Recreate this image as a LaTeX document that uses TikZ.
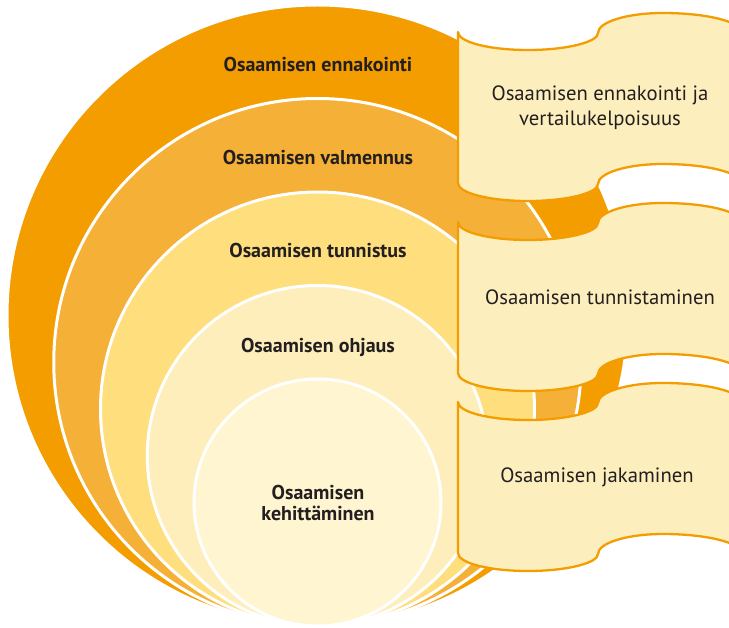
\documentclass[tikz,border=0pt]{standalone}
\usepackage{fontspec}
\setmainfont{PT Sans}
\definecolor{ringA}{RGB}{243,157,0}
\definecolor{ringB}{RGB}{245,176,55}
\definecolor{ringC}{RGB}{255,222,125}
\definecolor{ringD}{RGB}{254,238,188}
\definecolor{ringE}{RGB}{255,245,208}
\definecolor{bannerfill}{RGB}{253,239,189}
\definecolor{bannerline}{RGB}{243,157,0}
\definecolor{ink}{RGB}{35,31,32}
\tikzset{
  ring/.style={draw=white, line width=3pt},
  ringlabel/.style={text=ink, font=\fontsize{20}{21}\selectfont\bfseries, align=center, inner sep=0pt},
  bannershape/.style={draw=bannerline, fill=bannerfill, line width=2.3pt, line join=round},
  bannerlabel/.style={text=ink, font=\fontsize{20.7}{25}\selectfont, align=center, inner sep=0pt}
}
\newcommand{\wavebanner}[1]{%
  \begin{scope}[shift={(0,#1)}]
    \draw[bannershape] (458,0) .. controls (458,10) and (489,18) .. (528,18)
      .. controls (567,18) and (598,10) .. (598,1)
      .. controls (598,-10) and (627,-19) .. (663,-19)
      .. controls (706,-19) and (741,-10.5) .. (741,0)
      -- (741,151)
      .. controls (741,140.5) and (706,132) .. (663,132)
      .. controls (627,132) and (598,141) .. (598,152)
      .. controls (598,161) and (567,169) .. (528,169)
      .. controls (489,169) and (458,161) .. (458,151)
      -- cycle;
  \end{scope}}
\begin{document}
\begin{tikzpicture}[x=1pt,y=-1pt]
  \useasboundingbox (0,0) rectangle (729,628);
  \clip (0,0) rectangle (729,628);
  \fill[white] (0,0) rectangle (729,628);
  % nested circles, all tangent at the bottom
  \draw[ring, fill=ringA] (317.5,315.5) circle [radius=310.5pt];
  \draw[ring, fill=ringB] (317.5,362.25) circle [radius=263.75pt];
  \draw[ring, fill=ringC] (317.5,409) circle [radius=217pt];
  \draw[ring, fill=ringD] (317.5,455.75) circle [radius=170.25pt];
  \draw[ring, fill=ringE] (317.5,502.5) circle [radius=123.5pt];
  \node[ringlabel] (l1) at (318,65) {Osaamisen ennakointi};
  \node[ringlabel] (l2) at (318,158) {Osaamisen valmennus};
  \node[ringlabel] (l3) at (318,251) {Osaamisen tunnistus};
  \node[ringlabel] (l4) at (318,347) {Osaamisen ohjaus};
  \node[ringlabel] (l5) at (318,503) {Osaamisen\\kehittäminen};
  % banners
  \wavebanner{32}
  \wavebanner{222}
  \wavebanner{402}
  \node[bannerlabel] (b1) at (600,107.5) {Osaamisen ennakointi ja\\vertailukelpoisuus};
  \node[bannerlabel] (b2) at (600,297) {Osaamisen tunnistaminen};
  \node[bannerlabel] (b3) at (597,477) {Osaamisen jakaminen};
\end{tikzpicture}
\end{document}
